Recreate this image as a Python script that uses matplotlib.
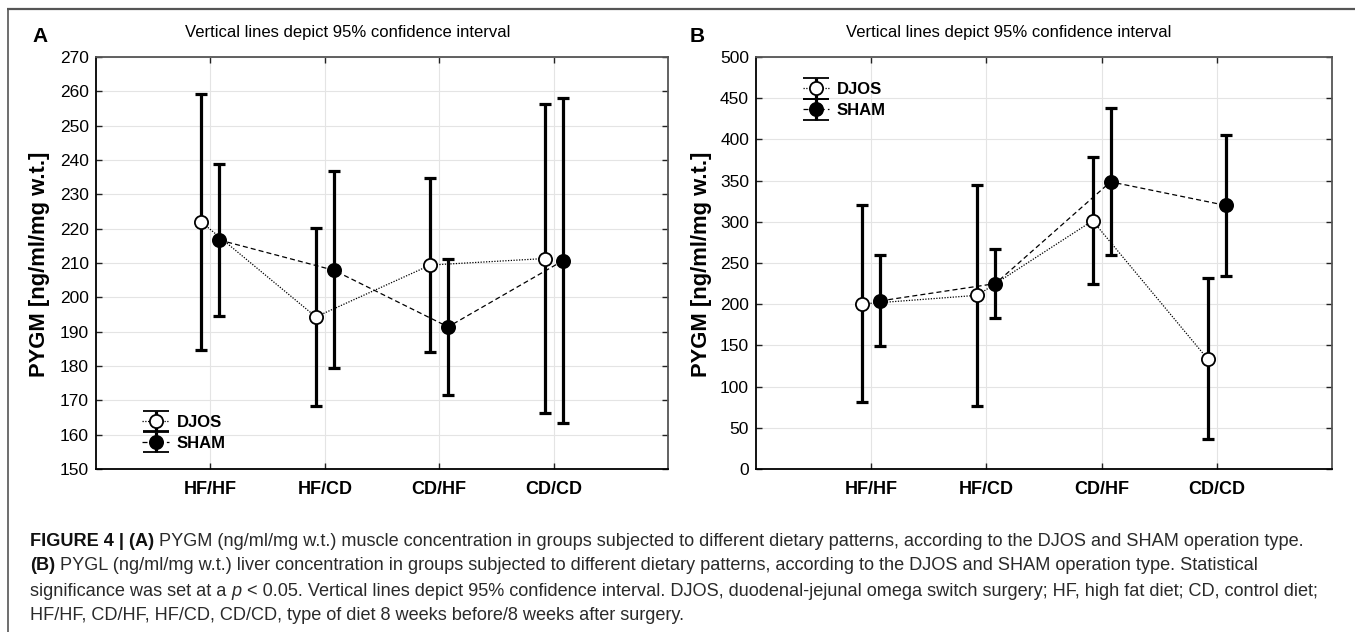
import matplotlib
matplotlib.use("Agg")
import matplotlib.pyplot as plt
from matplotlib.lines import Line2D
from matplotlib.container import ErrorbarContainer
from matplotlib.legend_handler import HandlerErrorbar
import numpy as np

# ---------------- data ----------------
categories = ['HF/HF', 'HF/CD', 'CD/HF', 'CD/CD']

A_djos_mean = [221.9, 194.3, 209.4, 211.3]
A_djos_low = [184.8, 168.4, 184.1, 166.3]
A_djos_high = [259.2, 220.3, 234.8, 256.3]
A_sham_mean = [216.7, 207.9, 191.4, 210.6]
A_sham_low = [194.5, 179.3, 171.6, 163.3]
A_sham_high = [238.9, 236.7, 211.2, 258.0]

B_djos_mean = [200.3, 210.8, 301.3, 133.3]
B_djos_low = [81.2, 76.8, 224.6, 36.4]
B_djos_high = [319.9, 344.5, 379.2, 231.4]
B_sham_mean = [204.0, 225.0, 348.5, 319.9]
B_sham_low = [149.0, 183.8, 259.3, 233.8]
B_sham_high = [259.3, 267.4, 438.2, 405.9]

A_yticks = list(range(150, 271, 10))
B_yticks = list(range(0, 501, 50))

title_text = 'Vertical lines depict 95% confidence interval'
ylabel_text = 'PYGM [ng/ml/mg w.t.]'
series_labels = ['DJOS', 'SHAM']

caption_lines = [
    [("FIGURE 4 | (A)", 'bold', 'normal'),
     (" PYGM (ng/ml/mg w.t.) muscle concentration in groups subjected to different dietary patterns, according to the DJOS and SHAM operation type.", 'normal', 'normal')],
    [("(B)", 'bold', 'normal'),
     (" PYGL (ng/ml/mg w.t.) liver concentration in groups subjected to different dietary patterns, according to the DJOS and SHAM operation type. Statistical", 'normal', 'normal')],
    [("significance was set at a ", 'normal', 'normal'), ("p", 'normal', 'italic'),
     (" < 0.05. Vertical lines depict 95% confidence interval. DJOS, duodenal-jejunal omega switch surgery; HF, high fat diet; CD, control diet;", 'normal', 'normal')],
    [("HF/HF, CD/HF, HF/CD, CD/CD, type of diet 8 weeks before/8 weeks after surgery.", 'normal', 'normal')],
]

# ---------------- style ----------------
SANS = ['Liberation Sans', 'DejaVu Sans']
plt.rcParams['font.family'] = SANS

W, H = 1355, 637
fig = plt.figure(figsize=(W / 100, H / 100), dpi=100)
fig.patch.set_facecolor('white')

def fx(px):
    return px / W

def fy(py):
    return 1 - py / H

# outer panel border (top + left)
fig.add_artist(Line2D([fx(7), 1.0], [fy(9), fy(9)], color='#555555', lw=1.6,
                      solid_capstyle='butt', transform=fig.transFigure))
fig.add_artist(Line2D([fx(8), fx(8)], [fy(9), fy(632)], color='#555555', lw=1.2,
                      solid_capstyle='butt', transform=fig.transFigure))

off = 0.078
MS = 9.5
DOT = (0, (1, 1.2))
DASH = (0, (4, 2.5))

def panel(rect, djos, sham, yticks, ylim, legend_loc, legend_anchor):
    ax = fig.add_axes(rect)
    x = np.arange(1, len(categories) + 1)
    xd = x - off
    xs = x + off
    dm, dl, dh = [np.array(v) for v in djos]
    sm, sl, sh = [np.array(v) for v in sham]
    ax.plot(xd, dm, color='black', lw=0.9, ls=DOT, zorder=2)
    ax.plot(xs, sm, color='black', lw=0.9, ls=DASH, zorder=2)
    ekw = dict(ecolor='black', elinewidth=2.3, capsize=4, capthick=2.3, zorder=3, fmt='none')
    ax.errorbar(xd, dm, yerr=[dm - dl, dh - dm], **ekw)
    ax.errorbar(xs, sm, yerr=[sm - sl, sh - sm], **ekw)
    ax.plot(xd, dm, ls='none', marker='o', ms=MS, mfc='white', mec='black', mew=1.3, zorder=4)
    ax.plot(xs, sm, ls='none', marker='o', ms=MS, mfc='black', mec='black', mew=1.3, zorder=4)

    # legend handles
    h1 = ax.errorbar([np.nan], [np.nan], yerr=[[1], [1]], color='black', ls=DOT, lw=0.9,
                     marker='o', ms=MS, mfc='white', mec='black', mew=1.3,
                     elinewidth=2.3, capsize=9.5, capthick=2.3)
    h2 = ax.errorbar([np.nan], [np.nan], yerr=[[1], [1]], color='black', ls=DASH, lw=0.9,
                     marker='o', ms=MS, mfc='black', mec='black', mew=1.3,
                     elinewidth=2.3, capsize=9.5, capthick=2.3)
    ax.legend([h1, h2], series_labels, loc=legend_loc, bbox_to_anchor=legend_anchor,
              frameon=False, handlelength=1.6, handletextpad=0.45, labelspacing=0.35,
              handler_map={ErrorbarContainer: HandlerErrorbar(yerr_size=0.62)},
              prop={'family': SANS, 'weight': 'bold', 'size': 12})

    ax.set_xlim(0, 5)
    ax.set_ylim(*ylim)
    ax.set_xticks(x)
    ax.set_xticklabels(categories, fontsize=13, fontweight='bold', family=SANS)
    ax.set_yticks(yticks)
    ax.set_yticklabels([str(v) for v in yticks], fontsize=12.5, family=SANS)
    ax.tick_params(direction='in', length=4, width=1, top=True, right=True, colors='#222222',
                   labelcolor='black', pad=5)
    ax.tick_params(axis='x', pad=9)
    ax.grid(True, color='#e4e4e4', lw=0.8, zorder=0)
    ax.set_axisbelow(True)
    for s in ['left', 'bottom']:
        ax.spines[s].set_color('black')
        ax.spines[s].set_linewidth(1.3)
    for s in ['top', 'right']:
        ax.spines[s].set_color('#555555')
        ax.spines[s].set_linewidth(1.3)
    return ax

axA = panel([fx(96), fy(469), fx(668) - fx(96), fy(57) - fy(469)],
            (A_djos_mean, A_djos_low, A_djos_high), (A_sham_mean, A_sham_low, A_sham_high),
            A_yticks, (150, 270), 'lower left', (0.055, 0.008))
axB = panel([fx(756), fy(469), fx(1332) - fx(756), fy(57) - fy(469)],
            (B_djos_mean, B_djos_low, B_djos_high), (B_sham_mean, B_sham_low, B_sham_high),
            B_yticks, (0, 500), 'upper left', (0.055, 0.975))

# titles, panel letters, y labels
for cx, lx, yl, letter in [(348, 40, 40, 'A'), (1009, 697, 702, 'B')]:
    fig.text(fx(cx), fy(33), title_text, ha='center', va='center', fontsize=12, family=SANS)
    fig.text(fx(lx), fy(36), letter, ha='center', va='center', fontsize=15,
             fontweight='bold', family=SANS)
    fig.text(fx(yl), fy(264), ylabel_text, ha='center', va='center', rotation=90, fontsize=15.8,
             fontweight='bold', family=SANS)

# caption
renderer = fig.canvas.get_renderer()
cap_size = 13.1
y0 = 541
for i, segs in enumerate(caption_lines):
    xpos = fx(30)
    for txt, wt, st in segs:
        t = fig.text(xpos, fy(y0 + 25 * i), txt, ha='left', va='center', fontsize=cap_size,
                     fontweight=wt, fontstyle=st, family=SANS,
                     color='#111111' if wt == 'bold' else '#2a2a2a')
        bb = t.get_window_extent(renderer)
        xpos = bb.x1 / fig.bbox.width

fig.savefig('out.png', dpi=100, facecolor='white')
